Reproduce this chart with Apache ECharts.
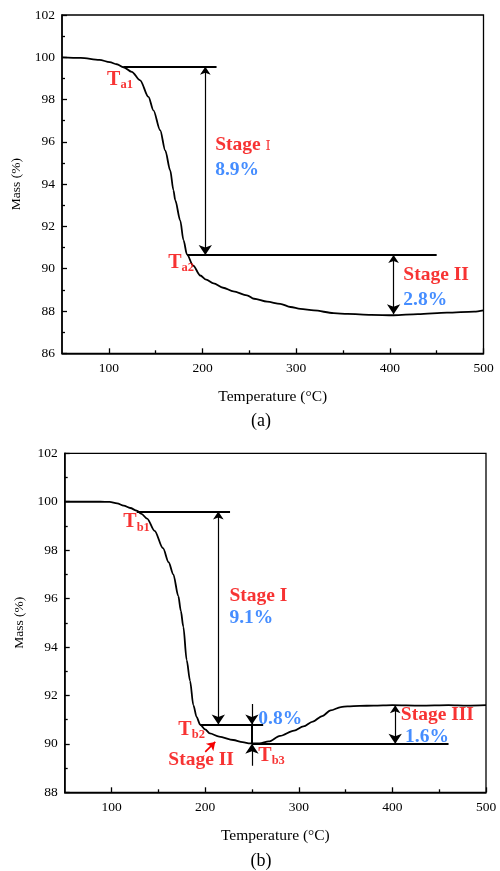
<!DOCTYPE html>
<html>
<head>
<meta charset="utf-8">
<script src="https://cdn.jsdelivr.net/npm/echarts@6/dist/echarts.min.js"></script>
<style>
  html, body { margin: 0; padding: 0; background: #fff; }
  #chart { width: 500px; height: 871px; }
</style>
</head>
<body>
<div id="chart"></div>
<script>
// ---- TGA curve, sample (a) ----
const tempA = [50, 70, 90, 101, 108.5, 115.6, 124.5, 133.4, 142.3, 147.6, 154.8, 160.2, 165.5, 169, 170.9, 176.2, 179.7, 183.4, 190, 197.6, 204, 211.8, 222, 233, 247.5, 255, 269, 283, 294, 304.5, 319, 340, 355, 380, 404, 430, 461, 490, 500];
const massA = [100.0, 99.97, 99.88, 99.77, 99.67, 99.53, 99.31, 98.91, 98.13, 97.49, 96.55, 95.6, 94.66, 93.71, 93.24, 92.29, 91.35, 90.68, 90.15, 89.68, 89.48, 89.31, 89.1, 88.93, 88.74, 88.58, 88.44, 88.34, 88.19, 88.1, 88.03, 87.9, 87.86, 87.82, 87.8, 87.85, 87.92, 87.97, 88.03];

// ---- TGA curve, sample (b) ----
const tempB = [50, 75, 88, 98, 106, 113, 120, 127, 132, 138, 146, 155, 161, 166, 171.4, 174, 176.7, 180.3, 183.9, 187.4, 191, 194.6, 200, 205, 215, 230, 240, 248, 258, 268, 280, 295, 305, 315, 325, 334, 345, 352, 365, 380, 400, 430, 460, 480, 500];
const massB = [100.0, 100.0, 100.0, 99.99, 99.93, 99.84, 99.74, 99.63, 99.5, 99.3, 98.8, 98.08, 97.5, 97.0, 96.1, 95.5, 94.84, 93.46, 92.6, 91.6, 91.1, 90.8, 90.6, 90.43, 90.3, 90.16, 90.07, 90.02, 90.02, 90.1, 90.33, 90.55, 90.72, 90.92, 91.15, 91.38, 91.52, 91.55, 91.57, 91.58, 91.6, 91.58, 91.6, 91.58, 91.6];

// ---- axis ticks ----
const tempTicks = [100, 200, 300, 400, 500];
const tempMinorTicks = [150, 250, 350, 450];

// ---- stage analysis (a): onset temperatures and mass levels ----
const onsetTempA = [115.6, 183.4];        // Ta1, Ta2
const lossA = [8.9, 2.8];                 // Stage I, Stage II (%)
const levelA1 = 99.55;
const levelA2 = levelA1 - lossA[0];
const levelA3 = levelA2 - lossA[1];

// ---- stage analysis (b) ----
const onsetTempB = [126.9, 194.6, 250];   // Tb1, Tb2, Tb3
const lossB = [9.1, 0.8, 1.6];            // Stage I, Stage II, Stage III (%)
const levelB1 = 99.6;
const levelB2 = 90.8;
const levelB3 = levelB2 - lossB[1];
const levelB4 = levelB3 + lossB[2];

const RED = '#f50000';
const BLUE = '#1670ff';
const SERIF = '"Liberation Serif", "Times New Roman", serif';

const rich = {
  t:   { fontSize: 20, fontWeight: 'bold', color: RED, fontFamily: SERIF },
  s:   { fontSize: 12.5, fontWeight: 'bold', color: RED, fontFamily: SERIF, padding: [10, 0, 0, 0] },
  st:  { fontSize: 19.5, fontWeight: 'bold', color: RED, fontFamily: SERIF },
  rn:  { fontSize: 13, color: RED, fontFamily: '"DejaVu Serif", "Liberation Serif", serif', padding: [3, 0, 0, 0] },
  num: { fontSize: 19.5, fontWeight: 'bold', color: BLUE, fontFamily: SERIF }
};

// text annotations, anchored at their left-middle point (data coordinates)
const notesA = [
  { text: '{t|T}{s|a1}', at: [98.1, 98.95] },
  { text: '{t|T}{s|a2}', at: [163.4, 90.3] },
  { text: '{st|Stage }{rn|Ⅰ}', at: [213.6, 95.84] },
  { text: '{num|' + lossA[0].toFixed(1) + '%}', at: [213.6, 94.66] },
  { text: '{st|Stage II}', at: [414.4, 89.7] },
  { text: '{num|' + lossA[1].toFixed(1) + '%}', at: [414.4, 88.52] }
];
const notesB = [
  { text: '{t|T}{s|b1}', at: [112.6, 99.15] },
  { text: '{t|T}{s|b2}', at: [171.4, 90.6] },
  { text: '{t|T}{s|b3}', at: [256.8, 89.5] },
  { text: '{st|Stage II}', at: [160.7, 89.33] },
  { text: '{st|Stage I}', at: [225.9, 96.11] },
  { text: '{num|' + lossB[0].toFixed(1) + '%}', at: [225.9, 95.18] },
  { text: '{num|' + lossB[1].toFixed(1) + '%}', at: [256.8, 91.01] },
  { text: '{st|Stage III}', at: [409, 91.19] },
  { text: '{num|' + lossB[2].toFixed(1) + '%}', at: [413.6, 90.29] }
];

function pairs(xs, ys) { return xs.map((x, i) => [x, ys[i]]); }

function noteSeries(notes, xi, yi) {
  return {
    type: 'scatter', xAxisIndex: xi, yAxisIndex: yi, symbolSize: 0, silent: true, z: 10,
    data: notes.map(n => ({
      value: n.at,
      label: { show: true, position: 'right', distance: 0, formatter: n.text, rich: rich }
    }))
  };
}

function segSeries(segs, xi, yi, width, color, symbol, size) {
  return {
    type: 'lines', coordinateSystem: 'cartesian2d', xAxisIndex: xi, yAxisIndex: yi,
    silent: true, z: 5, symbol: symbol, symbolSize: size,
    lineStyle: { color: color, width: width, opacity: 1, curveness: 0 },
    data: segs.map(s => ({ coords: s }))
  };
}

function mainX(gridIndex) {
  return {
    type: 'value', gridIndex: gridIndex, min: 50, max: 500,
    name: 'Temperature (°C)', nameLocation: 'middle', nameGap: 35.5,
    nameTextStyle: { fontFamily: SERIF, fontSize: 15.5, color: '#000' },
    axisLine: { show: true, onZero: false, lineStyle: { color: '#000', width: 1.5 } },
    axisTick: { show: true, inside: true, length: 5, customValues: tempTicks, lineStyle: { color: '#000', width: 1.3 } },
    axisLabel: { show: true, customValues: tempTicks, margin: 8, fontFamily: SERIF, fontSize: 13.5, color: '#000' },
    splitLine: { show: false }
  };
}
function minorX(gridIndex) {
  return {
    type: 'value', gridIndex: gridIndex, min: 50, max: 500, position: 'bottom',
    axisLine: { show: false, onZero: false },
    axisTick: { show: true, inside: true, length: 3, customValues: tempMinorTicks, lineStyle: { color: '#000', width: 1.3 } },
    axisLabel: { show: false },
    splitLine: { show: false }
  };
}
function massY(gridIndex, min) {
  return {
    type: 'value', gridIndex: gridIndex, min: min, max: 102, interval: 2,
    name: 'Mass (%)', nameLocation: 'middle', nameGap: 28,
    nameTextStyle: { fontFamily: SERIF, fontSize: 13.5, color: '#000' },
    axisLine: { show: true, onZero: false, lineStyle: { color: '#000', width: 1.5 } },
    axisTick: { show: true, inside: true, length: 5, lineStyle: { color: '#000', width: 1.3 } },
    minorTick: { show: true, splitNumber: 2, length: 3, lineStyle: { color: '#000', width: 1.3 } },
    axisLabel: { margin: 7, fontFamily: SERIF, fontSize: 13.5, color: '#000' },
    splitLine: { show: false }, minorSplitLine: { show: false }
  };
}

const chart = echarts.init(document.getElementById('chart'), null, { renderer: 'canvas' });
chart.setOption({
  animation: false,
  backgroundColor: '#fff',
  grid: [
    { left: 62, top: 15, right: 16.5, bottom: 517.7, show: true, borderColor: '#000', borderWidth: 1.3, backgroundColor: 'transparent' },
    { left: 64.7, top: 453.3, right: 14, bottom: 78.7, show: true, borderColor: '#000', borderWidth: 1.3, backgroundColor: 'transparent' }
  ],
  xAxis: [mainX(0), minorX(0), mainX(1), minorX(1)],
  yAxis: [massY(0, 86), massY(1, 88)],
  graphic: [
    { type: 'text', x: 261, y: 421.7, style: { text: '(a)', fontFamily: SERIF, fontSize: 18, fill: '#000', align: 'center', verticalAlign: 'middle' } },
    { type: 'text', x: 261, y: 861.7, style: { text: '(b)', fontFamily: SERIF, fontSize: 18, fill: '#000', align: 'center', verticalAlign: 'middle' } }
  ],
  series: [
    { type: 'line', xAxisIndex: 0, yAxisIndex: 0, data: pairs(tempA, massA), showSymbol: false, smooth: 0.3, smoothMonotone: 'x', silent: true, z: 4,
      lineStyle: { color: '#000', width: 1.8 } },
    { type: 'line', xAxisIndex: 2, yAxisIndex: 1, data: pairs(tempB, massB), showSymbol: false, smooth: 0.3, smoothMonotone: 'x', silent: true, z: 4,
      lineStyle: { color: '#000', width: 1.8 } },

    // (a) stage boundary levels
    segSeries([
      [[onsetTempA[0], levelA1], [215, levelA1]],
      [[onsetTempA[1], levelA2], [450, levelA2]]
    ], 0, 0, 2, '#000', 'none', 0),
    // (a) stage arrows
    segSeries([
      [[203, levelA1], [203, levelA2]],
      [[404, levelA2], [404, levelA3]]
    ], 0, 0, 1.2, '#000', ['arrow', 'arrow'], [8, 10]),
    noteSeries(notesA, 0, 0),

    // (b) stage boundary levels
    segSeries([
      [[onsetTempB[0], levelB1], [226.6, levelB1]],
      [[onsetTempB[1], levelB2], [262, levelB2]],
      [[onsetTempB[2], levelB3], [460, levelB3]]
    ], 2, 1, 2, '#000', 'none', 0),
    // (b) double-headed stage arrows
    segSeries([
      [[214.1, levelB1], [214.1, levelB2]],
      [[403, levelB4], [403, levelB3]]
    ], 2, 1, 1.2, '#000', ['arrow', 'arrow'], [8, 10]),
    // (b) stage II bracket at Tb3
    segSeries([
      [[onsetTempB[2], 91.65], [onsetTempB[2], levelB2]],
      [[onsetTempB[2], 89.1], [onsetTempB[2], levelB3]]
    ], 2, 1, 1.2, '#000', ['none', 'arrow'], [8, 10]),
    segSeries([
      [[onsetTempB[2], levelB2], [onsetTempB[2], levelB3]]
    ], 2, 1, 2, '#000', 'none', 0),
    // (b) pointer to stage II
    segSeries([
      [[200.1, 89.67], [210.8, 90.08]]
    ], 2, 1, 1.6, RED, ['none', 'arrow'], [7, 8]),
    noteSeries(notesB, 2, 1)
  ]
});
</script>
</body>
</html>
